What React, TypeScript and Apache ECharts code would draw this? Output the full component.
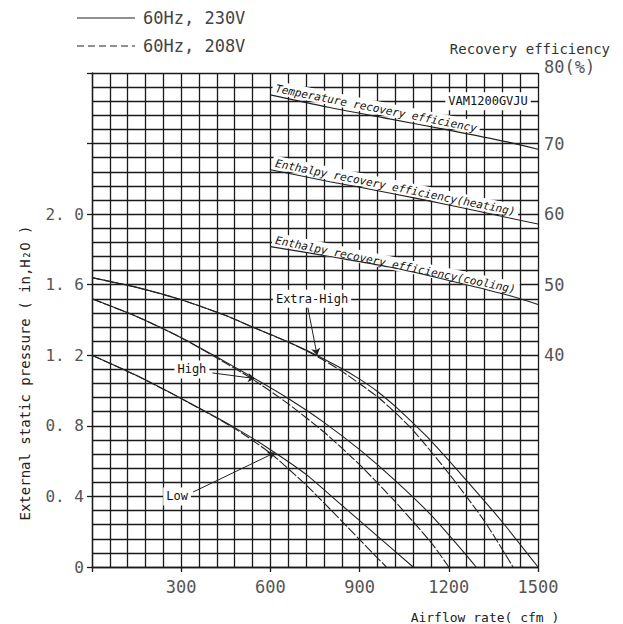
import React, { useEffect, useRef } from "react";
import * as echarts from "echarts";

// ---------- axis ticks ----------
const airflowTickValues = [300, 600, 900, 1200, 1500];
const pressureTickLabels = ["0", "0. 4", "0. 8", "1. 2", "1. 6", "2. 0"];
const efficiencyTickValues = [40, 50, 60, 70, 80];

// ---------- fan curves (airflow cfm, external static pressure in.H2O) ----------
const xhighFlow230 = [0, 150, 300, 450, 540, 660, 750, 840, 900, 960, 1020, 1080, 1140, 1260, 1380, 1500];
const xhighPress230 = [1.64, 1.585, 1.515, 1.425, 1.36, 1.275, 1.205, 1.125, 1.065, 0.995, 0.91, 0.815, 0.715, 0.49, 0.255, 0];
const xhighFlow208 = [0, 150, 300, 450, 540, 660, 750, 840, 960, 1020, 1080, 1200, 1320, 1416];
const xhighPress208 = [1.64, 1.585, 1.515, 1.425, 1.36, 1.275, 1.2, 1.11, 0.965, 0.875, 0.775, 0.53, 0.26, 0];

const highFlow230 = [0, 150, 300, 420, 540, 660, 780, 900, 1020, 1140, 1260, 1292];
const highPress230 = [1.52, 1.42, 1.3, 1.19, 1.075, 0.955, 0.82, 0.665, 0.49, 0.295, 0.065, 0];
const highFlow208 = [0, 150, 300, 420, 540, 660, 780, 900, 1020, 1140, 1200];
const highPress208 = [1.52, 1.42, 1.3, 1.185, 1.065, 0.925, 0.765, 0.58, 0.37, 0.14, 0];

const lowFlow230 = [0, 150, 300, 480, 600, 720, 840, 960, 1080];
const lowPress230 = [1.2, 1.085, 0.955, 0.79, 0.665, 0.525, 0.35, 0.175, 0];
const lowFlow208 = [0, 150, 300, 480, 600, 720, 840, 900, 990];
const lowPress208 = [1.2, 1.085, 0.955, 0.785, 0.645, 0.465, 0.26, 0.155, 0];

// ---------- recovery efficiency curves (airflow cfm, %) ----------
const effFlow = [600, 800, 1000, 1200, 1400, 1500];
const tempEff = [76.9, 75.1, 73.5, 71.9, 70.2, 69.2];
const heatEff = [66.3, 64.6, 63.0, 61.3, 59.5, 58.6];
const coolEff = [55.4, 54.0, 52.5, 50.6, 48.5, 47.2];

// ---------- annotations (data coordinates) ----------
const curveLabels = [
  { text: "Extra-High", at: [740, 1.52] },
  { text: "High", at: [336, 1.12] },
  { text: "Low", at: [286, 0.4] },
  { text: "VAM1200GVJU", at: [1332, 2.64] },
];
const leaders = [
  [[726, 1.47], [757, 1.2]],
  [[405, 1.1], [548, 1.068]],
  [[340, 0.425], [615, 0.648]],
];

const MONO = "'DejaVu Sans Mono', 'Liberation Mono', monospace";
const INK = "#1a1a1a";

const pairs = (xs: number[], ys: number[]) => xs.map((x, i) => [x, ys[i]]);

export default function App() {
  const ref = useRef<HTMLDivElement>(null);

  useEffect(() => {
    if (!ref.current) return;
    const chart = echarts.init(ref.current, undefined, { renderer: "svg" });

    const curveStyle = (dashed: boolean) => ({
      color: "#222",
      width: 1.1,
      type: dashed ? [10, 2] : "solid",
    });
    const fanSeries = (name: string, xs: number[], ys: number[], dashed: boolean, extra: any = {}) => ({
      name,
      type: "line",
      data: pairs(xs, ys),
      symbol: "none",
      smooth: 0.2,
      silent: true,
      z: 2,
      lineStyle: curveStyle(dashed),
      ...extra,
    });
    const effSeries = (name: string, ys: number[]) => ({
      name,
      type: "line",
      yAxisIndex: 2,
      data: pairs(effFlow, ys),
      symbol: "none",
      smooth: 0.3,
      silent: true,
      z: 2,
      lineStyle: { color: "#222", width: 1.1 },
    });

    const gridLine = { color: INK, width: 1.3 };
    const tickLabel = { fontFamily: MONO, fontSize: 16, color: "#555" };

    const option: any = {
      animation: false,
      backgroundColor: "#fff",
      grid: { left: 92, right: 85, top: 73, bottom: 57, outerBoundsMode: "none" },
      xAxis: [
        {
          type: "value",
          min: 0,
          max: 1500,
          interval: 60,
          position: "bottom",
          axisLine: { show: true, lineStyle: gridLine },
          axisTick: { show: false },
          axisLabel: { show: false },
          splitLine: { show: true, lineStyle: gridLine },
        },
        {
          type: "value",
          min: 0,
          max: 1500,
          interval: 300,
          position: "bottom",
          axisLine: { show: false },
          axisTick: { show: true, length: 5, lineStyle: gridLine },
          axisLabel: {
            ...tickLabel,
            fontSize: 17,
            margin: 11,
            formatter: (v: number) => (airflowTickValues.includes(Math.round(v)) ? String(Math.round(v)) : ""),
          },
          splitLine: { show: false },
        },
      ],
      yAxis: [
        {
          type: "value",
          min: 0,
          max: 2.8,
          interval: 0.08,
          position: "left",
          axisLine: { show: true, lineStyle: gridLine },
          axisTick: { show: false },
          axisLabel: { show: false },
          splitLine: { show: true, lineStyle: gridLine },
        },
        {
          type: "value",
          min: 0,
          max: 2.8,
          interval: 0.4,
          position: "left",
          axisLine: { show: false },
          axisTick: { show: true, length: 5, lineStyle: gridLine },
          axisLabel: {
            ...tickLabel,
            margin: 8,
            formatter: (v: number) => {
              const n = Math.round(v * 10);
              return n % 4 === 0 && n / 4 < pressureTickLabels.length ? pressureTickLabels[n / 4] : "";
            },
          },
          splitLine: { show: false },
        },
        {
          type: "value",
          min: 10,
          max: 80,
          interval: 10,
          position: "right",
          axisLine: { show: false },
          axisTick: { show: false },
          splitLine: { show: false },
          axisLabel: {
            ...tickLabel,
            fontSize: 17,
            margin: 6,
            formatter: (v: number) => {
              const n = Math.round(v);
              if (!efficiencyTickValues.includes(n)) return "";
              return n === 80 ? "{top|80(%)}" : String(n);
            },
            rich: { top: { fontFamily: MONO, fontSize: 17, color: "#555", padding: [0, 0, 12, 0] } },
          },
        },
      ],
      series: [
        fanSeries("Extra-High 230V", xhighFlow230, xhighPress230, false, {
          markLine: {
            silent: true,
            symbol: ["none", "arrow"],
            symbolSize: 7,
            lineStyle: { color: "#222", width: 1, type: "solid" },
            label: { show: false },
            emphasis: { disabled: true },
            data: leaders.map((l) => [{ coord: l[0] }, { coord: l[1] }]),
          },
        }),
        fanSeries("Extra-High 208V", xhighFlow208, xhighPress208, true),
        fanSeries("High 230V", highFlow230, highPress230, false),
        fanSeries("High 208V", highFlow208, highPress208, true),
        fanSeries("Low 230V", lowFlow230, lowPress230, false),
        fanSeries("Low 208V", lowFlow208, lowPress208, true),
        effSeries("Temperature recovery efficiency", tempEff),
        effSeries("Enthalpy recovery efficiency(heating)", heatEff),
        effSeries("Enthalpy recovery efficiency(cooling)", coolEff),
      ],
    };
    chart.setOption(option);

    const toPx = (pt: number[], yIdx: number) =>
      chart.convertToPixel({ xAxisIndex: 0, yAxisIndex: yIdx }, pt) as number[];

    const effLabel = (text: string, ys: number[]) => {
      const p1 = toPx([effFlow[0], ys[0]], 2);
      const p2 = toPx([effFlow[4], ys[4]], 2);
      const ang = Math.atan2(p2[1] - p1[1], p2[0] - p1[0]);
      return {
        type: "text",
        x: p1[0] + 1,
        y: p1[1] - 1.5,
        rotation: -ang,
        z: 1,
        style: {
          text,
          fontFamily: MONO,
          fontSize: 11,
          fontStyle: "italic",
          fill: "#111",
          align: "left",
          verticalAlign: "bottom",
          backgroundColor: "#fff",
          padding: [2, 3, 0, 3],
        },
      };
    };

    const graphics: any[] = [
      // legend
      { type: "line", z: 1, shape: { x1: 77, y1: 18, x2: 135, y2: 18 }, style: { stroke: "#222", lineWidth: 1.2 } },
      { type: "line", z: 1, shape: { x1: 77, y1: 46, x2: 135, y2: 46 }, style: { stroke: "#222", lineWidth: 1.2, lineDash: [7, 4] } },
      { type: "text", z: 1, x: 143, y: 18, style: { text: "60Hz, 230V", fontFamily: MONO, fontSize: 17, fill: "#444", verticalAlign: "middle" } },
      { type: "text", z: 1, x: 143, y: 46, style: { text: "60Hz, 208V", fontFamily: MONO, fontSize: 17, fill: "#444", verticalAlign: "middle" } },
      // axis titles
      { type: "text", z: 1, x: 610, y: 49, style: { text: "Recovery efficiency", fontFamily: MONO, fontSize: 14, fill: "#333", align: "right", verticalAlign: "middle" } },
      { type: "text", z: 1, x: 25, y: 373, rotation: Math.PI / 2, style: { text: "External static pressure ( in,H₂O )", fontFamily: MONO, fontSize: 14, fill: "#222", align: "center", verticalAlign: "middle" } },
      { type: "text", z: 1, x: 485, y: 617, style: { text: "Airflow rate( cfm )", fontFamily: MONO, fontSize: 13, fill: "#222", align: "center", verticalAlign: "middle" } },
      effLabel("Temperature recovery efficiency", tempEff),
      effLabel("Enthalpy recovery efficiency(heating)", heatEff),
      effLabel("Enthalpy recovery efficiency(cooling)", coolEff),
      ...curveLabels.map((c) => {
        const p = toPx(c.at, 0);
        return {
          type: "text",
          z: 1,
          x: p[0],
          y: p[1],
          style: {
            text: c.text,
            fontFamily: MONO,
            fontSize: 12,
            fill: "#111",
            align: "center",
            verticalAlign: "middle",
            backgroundColor: "#fff",
            padding: [3, 3],
          },
        };
      }),
    ];
    chart.setOption({ graphic: graphics });

    return () => chart.dispose();
  }, []);

  return (
    <div
      ref={ref}
      style={{ position: "absolute", left: 0, top: 0, width: 623, height: 624, background: "#fff" }}
    />
  );
}
